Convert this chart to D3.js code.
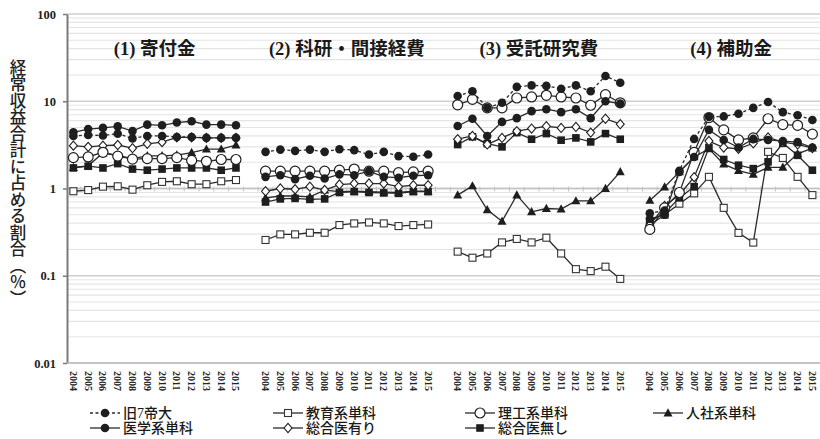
<!DOCTYPE html>
<html>
<head>
<meta charset="utf-8">
<script src="https://cdn.jsdelivr.net/npm/d3@7"></script>
<style>
  body { margin: 0; background: #fff; }
  svg { display: block; }
</style>
</head>
<body>
<svg id="chart" width="820" height="439"></svg>
<script>
// ---- data -------------------------------------------------------------
const years = [2004, 2005, 2006, 2007, 2008, 2009, 2010, 2011, 2012, 2013, 2014, 2015];
const panelTitles = ["(1) 寄付金", "(2) 科研・間接経費", "(3) 受託研究費", "(4) 補助金"];
const yTickValues = [0.01, 0.1, 1, 10, 100];
const yTickLabels = ["0.01", "0.1", "1", "10", "100"];
const yAxisTitle = "経常収益合計に占める割合（％）";

const seriesNames = ["旧7帝大", "医学系単科", "教育系単科", "総合医有り", "理工系単科", "総合医無し", "人社系単科"];

// each series: one array of 12 yearly values per panel (寄付金, 科研・間接経費, 受託研究費, 補助金)
const kyu7Values = [
  [4.0, 4.1, 4.05, 4.25, 3.75, 4.0, 4.0, 3.9, 3.9, 3.8, 3.8, 3.8],
  [2.63, 2.79, 2.7, 2.79, 2.63, 2.82, 2.75, 2.45, 2.63, 2.35, 2.31, 2.45],
  [11.5, 13.0, 8.4, 9.6, 14.6, 15.2, 15.0, 13.9, 15.2, 13.0, 19.5, 16.3],
  [0.52, 0.56, 1.6, 3.7, 6.6, 6.7, 7.2, 8.4, 9.8, 7.5, 6.9, 6.1]
];
const igakuValues = [
  [4.4, 4.8, 4.95, 5.15, 4.55, 5.4, 5.3, 5.7, 5.9, 5.4, 5.4, 5.3],
  [1.36, 1.42, 1.28, 1.4, 1.3, 1.45, 1.42, 1.58, 1.36, 1.33, 1.4, 1.42],
  [5.2, 6.3, 4.0, 5.8, 6.4, 7.7, 8.1, 7.5, 8.1, 6.4, 10.0, 9.4],
  [0.45, 0.5, 1.55, 2.3, 4.7, 3.6, 2.95, 3.7, 3.6, 3.5, 3.4, 2.95]
];
const kyoikuValues = [
  [0.93, 0.96, 1.05, 1.06, 0.97, 1.09, 1.19, 1.21, 1.12, 1.12, 1.21, 1.25],
  [0.257, 0.298, 0.298, 0.311, 0.311, 0.381, 0.398, 0.408, 0.398, 0.371, 0.381, 0.387],
  [0.189, 0.161, 0.18, 0.241, 0.264, 0.241, 0.273, 0.18, 0.119, 0.113, 0.127, 0.092],
  [0.38, 0.5, 0.67, 0.88, 1.36, 0.6, 0.31, 0.24, 2.63, 2.24, 1.36, 0.84]
];
const sogoAriValues = [
  [3.1, 3.0, 3.1, 3.15, 2.9, 3.25, 3.4, 3.85, 3.85, 3.8, 3.8, 3.8],
  [0.93, 1.0, 0.98, 1.05, 0.96, 1.11, 1.14, 1.14, 1.14, 1.05, 1.09, 1.09],
  [3.67, 4.0, 3.2, 3.8, 4.54, 4.86, 5.17, 4.95, 5.08, 4.37, 6.3, 5.46],
  [0.38, 0.63, 0.85, 1.35, 3.5, 2.95, 2.85, 3.3, 3.85, 3.4, 3.2, 2.9]
];
const rikoValues = [
  [2.26, 2.3, 2.6, 2.35, 2.17, 2.2, 2.2, 2.26, 2.1, 2.05, 2.15, 2.15],
  [1.58, 1.58, 1.58, 1.58, 1.58, 1.62, 1.67, 1.58, 1.58, 1.52, 1.55, 1.58],
  [9.1, 10.5, 8.4, 8.4, 10.9, 11.2, 11.7, 11.2, 10.9, 9.0, 11.9, 9.6],
  [0.34, 0.6, 0.9, 2.6, 6.5, 4.7, 3.6, 3.8, 6.3, 5.4, 5.3, 4.2]
];
const sogoNashiValues = [
  [1.72, 1.8, 1.72, 1.93, 1.67, 1.62, 1.67, 1.72, 1.72, 1.72, 1.62, 1.72],
  [0.7, 0.76, 0.77, 0.75, 0.76, 0.9, 0.92, 0.9, 0.89, 0.88, 0.92, 0.92],
  [3.19, 3.91, 3.27, 3.0, 4.37, 3.67, 4.26, 3.58, 3.8, 3.42, 4.26, 3.67],
  [0.42, 0.52, 0.78, 1.05, 2.95, 2.15, 1.85, 1.69, 2.02, 3.3, 2.4, 1.62]
];
const jinshaValues = [
  [1.74, 1.82, 2.55, 2.4, 2.2, 2.37, 2.37, 2.41, 2.58, 2.82, 2.82, 3.14],
  [0.78, 0.82, 0.82, 0.8, 0.96, 0.92, 0.93, 0.92, 0.91, 0.9, 0.93, 0.93],
  [0.84, 1.07, 0.57, 0.42, 0.84, 0.54, 0.59, 0.58, 0.72, 0.72, 1.0, 1.55],
  [0.73, 1.04, 1.55, 2.3, 2.85, 1.9, 1.6, 1.45, 1.75, 1.75, 2.5, 2.9]
];

// ---- series styling --------------------------------------------------
const series = [
  { name: seriesNames[0], values: kyu7Values,      marker: "circle",   dash: "3,2.5" },
  { name: seriesNames[1], values: igakuValues,     marker: "circle",   dash: null },
  { name: seriesNames[2], values: kyoikuValues,    marker: "osquare",  dash: null },
  { name: seriesNames[3], values: sogoAriValues,   marker: "odiamond", dash: null },
  { name: seriesNames[4], values: rikoValues,      marker: "ocircle",  dash: null },
  { name: seriesNames[5], values: sogoNashiValues, marker: "square",   dash: null },
  { name: seriesNames[6], values: jinshaValues,    marker: "triangle", dash: null }
];
// draw order (bottom to top)
const drawOrder = [2, 6, 5, 3, 4, 1, 0];

const ink = "#1e1e1e";
const serifCJK = "'Liberation Serif', 'Noto Sans CJK JP', serif";

// ---- layout & scales -------------------------------------------------
const svg = d3.select("#chart");
const plotTop = 14, plotBottom = 363, plotLeft = 67, plotRight = 820;

// category slots: 12 years per panel, one empty slot between panels
const slots = [];
panelTitles.forEach((t, p) => {
  years.forEach(yr => slots.push(`${p}-${yr}`));
  if (p < panelTitles.length - 1) slots.push(`gap${p}`);
});
const step = 14.78;
const x = d3.scaleBand().domain(slots).range([66, 66 + slots.length * step]).paddingInner(0).paddingOuter(0);
const cx = key => x(key) + x.bandwidth() / 2;

const y = d3.scaleLog().domain([0.01, 100]).range([plotBottom, plotTop]);

// ---- gridlines -------------------------------------------------------
const minor = [];
[0.01, 0.1, 1, 10].forEach(d => { for (let k = 2; k <= 9; k++) minor.push(d * k); });
svg.append("g").selectAll("line").data(minor).join("line")
  .attr("x1", plotLeft).attr("x2", plotRight)
  .attr("y1", d => y(d)).attr("y2", d => y(d))
  .attr("stroke", "#e4e4e4").attr("stroke-width", 1.2);
svg.append("g").selectAll("line").data(yTickValues).join("line")
  .attr("x1", plotLeft).attr("x2", plotRight)
  .attr("y1", d => y(d)).attr("y2", d => y(d))
  .attr("stroke", "#cfcfcf").attr("stroke-width", 1.5);

// horizontal category axis crossing at 1, with ticks between categories
svg.append("line")
  .attr("x1", plotLeft).attr("x2", plotRight)
  .attr("y1", y(1)).attr("y2", y(1))
  .attr("stroke", "#c2c2c2").attr("stroke-width", 1.5);
svg.append("g").selectAll("line").data(slots.slice(1)).join("line")
  .attr("x1", d => x(d)).attr("x2", d => x(d))
  .attr("y1", y(1) - 2).attr("y2", y(1) + 3)
  .attr("stroke", "#c2c2c2").attr("stroke-width", 1);

// ---- y axis ----------------------------------------------------------
const yAxis = svg.append("g")
  .attr("transform", `translate(${plotLeft},0)`)
  .call(d3.axisLeft(y).tickValues(yTickValues)
    .tickFormat((d, i) => yTickLabels[i]).tickSize(4).tickSizeOuter(0).tickPadding(7));
yAxis.select(".domain").attr("stroke", "#7a7a7a").attr("stroke-width", 2);
yAxis.selectAll(".tick line").attr("stroke", "#7a7a7a").attr("stroke-width", 1.5);
yAxis.selectAll(".tick text")
  .attr("font-family", "'Liberation Serif', serif").attr("font-weight", "bold")
  .attr("font-size", 12.5).attr("fill", "#222");

// bottom border of plot
svg.append("line")
  .attr("x1", plotLeft).attr("x2", plotRight)
  .attr("y1", plotBottom).attr("y2", plotBottom)
  .attr("stroke", "#bdbdbd").attr("stroke-width", 1.5);

// ---- x labels (years, rotated) --------------------------------------
const yearKeys = slots.filter(s => !s.startsWith("gap"));
const xAxis = svg.append("g")
  .attr("transform", `translate(0,${plotBottom})`)
  .call(d3.axisBottom(x).tickValues(yearKeys).tickFormat(k => k.split("-")[1]).tickSize(0));
xAxis.select(".domain").remove();
xAxis.selectAll(".tick text")
  .attr("transform", "rotate(90)")
  .attr("x", 8).attr("y", 0).attr("dy", "0.35em")
  .attr("text-anchor", "start")
  .attr("font-family", "'Liberation Serif', serif").attr("font-weight", "bold")
  .attr("font-size", 10).attr("fill", "#222");

// ---- y axis title (vertical) -----------------------------------------
svg.append("text")
  .attr("x", 18).attr("y", 183)
  .attr("text-anchor", "middle")
  .style("writing-mode", "vertical-rl")
  .attr("font-family", "'Noto Sans CJK JP', sans-serif")
  .attr("font-weight", 500)
  .attr("font-size", 16.5)
  .attr("fill", "#222")
  .text(yAxisTitle);

// ---- panel titles ----------------------------------------------------
svg.append("g").selectAll("text").data(panelTitles).join("text")
  .attr("x", (d, p) => (cx(`${p}-${years[0]}`) + cx(`${p}-${years[years.length - 1]}`)) / 2)
  .attr("y", 55)
  .attr("text-anchor", "middle")
  .attr("font-family", serifCJK)
  .attr("font-weight", "bold")
  .attr("font-size", 18.5)
  .attr("fill", "#1a1a1a")
  .text(d => d);

// ---- markers ---------------------------------------------------------
function drawMarker(g, type, px, py) {
  switch (type) {
    case "circle":
      g.append("circle").attr("cx", px).attr("cy", py).attr("r", 4.3).attr("fill", ink);
      break;
    case "ocircle":
      g.append("circle").attr("cx", px).attr("cy", py).attr("r", 5)
        .attr("fill", "#fff").attr("stroke", ink).attr("stroke-width", 1.2);
      break;
    case "square":
      g.append("rect").attr("x", px - 3.8).attr("y", py - 3.8).attr("width", 7.6).attr("height", 7.6)
        .attr("fill", ink);
      break;
    case "osquare":
      g.append("rect").attr("x", px - 3.5).attr("y", py - 3.5).attr("width", 7).attr("height", 7)
        .attr("fill", "#fff").attr("stroke", "#333").attr("stroke-width", 1.1);
      break;
    case "odiamond":
      g.append("path")
        .attr("d", `M${px},${py - 4.6}L${px + 4},${py}L${px},${py + 4.6}L${px - 4},${py}Z`)
        .attr("fill", "#fff").attr("stroke", ink).attr("stroke-width", 1.1);
      break;
    case "triangle":
      g.append("path")
        .attr("d", `M${px},${py - 4.8}L${px + 4.5},${py + 3.4}L${px - 4.5},${py + 3.4}Z`)
        .attr("fill", ink);
      break;
  }
}

// ---- series lines and markers ---------------------------------------
const line = d3.line().x(d => d.x).y(d => d.y);
const plotG = svg.append("g");
drawOrder.forEach(si => {
  const s = series[si];
  const g = plotG.append("g");
  s.values.forEach((vals, p) => {
    const pts = vals.map((v, i) => ({ x: cx(`${p}-${years[i]}`), y: y(v) }));
    g.append("path").attr("d", line(pts))
      .attr("fill", "none").attr("stroke", "#2a2a2a").attr("stroke-width", 1.3)
      .attr("stroke-dasharray", s.dash);
    pts.forEach(pt => drawMarker(g, s.marker, pt.x, pt.y));
  });
});

// ---- legend ----------------------------------------------------------
const legendCols = [90, 273, 465, 653];
const legendRows = [413, 428];
const legendLayout = [[0, 0], [0, 1], [1, 0], [1, 1], [2, 0], [2, 1], [3, 0]];
const legend = svg.append("g");
series.forEach((s, i) => {
  const [c, r] = legendLayout[i];
  const lx = legendCols[c], ly = legendRows[r];
  const g = legend.append("g");
  g.append("line").attr("x1", lx).attr("x2", lx + 30).attr("y1", ly).attr("y2", ly)
    .attr("stroke", "#2a2a2a").attr("stroke-width", 1.3).attr("stroke-dasharray", s.dash);
  drawMarker(g, s.marker, lx + 15, ly);
  g.append("text").attr("x", lx + 33).attr("y", ly).attr("dy", "0.36em")
    .attr("font-family", serifCJK).attr("font-weight", 500)
    .attr("font-size", 14).attr("fill", "#1a1a1a")
    .text(s.name);
});
</script>
</body>
</html>
